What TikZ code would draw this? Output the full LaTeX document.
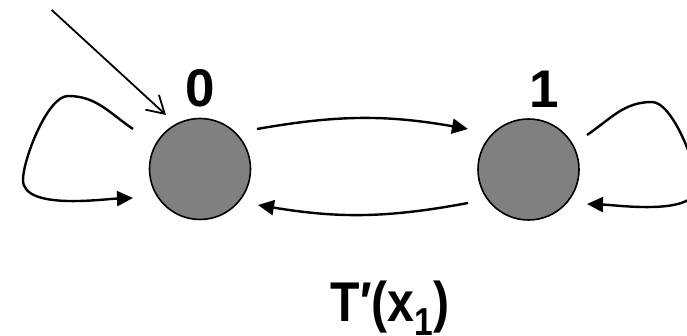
\documentclass[tikz,border=0pt]{standalone}
\usepackage{fontspec}
\usepackage{graphicx}
\setmainfont{Liberation Sans}
\usetikzlibrary{positioning,arrows.meta}

\begin{document}
\begin{tikzpicture}[x=1pt, y=1pt,
    state/.style={circle, draw=black, line width=1.6pt, fill=black!50,
      minimum size=101pt, inner sep=0pt},
    digit/.style={inner sep=0pt, font=\fontsize{53}{53}\selectfont\bfseries},
    edge/.style={line width=2.4pt, -{Triangle[length=16pt, width=15pt]}},
    start/.style={line width=1.8pt, -{Straight Barb[length=17pt, width=20pt]}}]
    \useasboundingbox (0,0) rectangle (687,336);

    \node[state] (q0) at (200,167) {};
    \node[state] (q1) at (528.5,166.5) {};
    \node[digit, above=10pt of q0] (l0) {0};
    \node[digit, above=10pt of q1, xshift=16pt] (l1) {1};

    % start arrow
    \coordinate (init) at (51.7,326);
    \draw[start] (init) -- ([shift={(-34,54)}]q0.center);

    % transitions between the states
    \draw[edge] ([shift={(57,40)}]q0.center) to[bend left=10] ([shift={(-60.5,40.5)}]q1.center);
    \draw[edge] ([shift={(-60.5,-33.5)}]q1.center) to[bend left=10] ([shift={(58,-36)}]q0.center);

    % self loops
    \draw[edge] ([shift={(-67,40)}]q0.center) to[out=146, in=0] ++(-65,33)
      to[out=180, in=90, looseness=.55] ++(-45,-84)
      to[out=270, in=182, looseness=.7] ([shift={(-67,-29)}]q0.center);
    \draw[edge] ([shift={(58.5,34.5)}]q1.center) to[out=34, in=180] ++(65,33)
      to[out=0, in=90, looseness=.55] ++(45,-84)
      to[out=270, in=-2, looseness=.7] ([shift={(58.5,-34.5)}]q1.center);

    \node[anchor=base, inner sep=0pt, font=\fontsize{56}{56}\selectfont\bfseries] (cap) at (390,14)
      {\scalebox{0.86}[1]{T′(x\raisebox{-14pt}{\fontsize{39}{39}\selectfont 1})}};
\end{tikzpicture}
\end{document}
